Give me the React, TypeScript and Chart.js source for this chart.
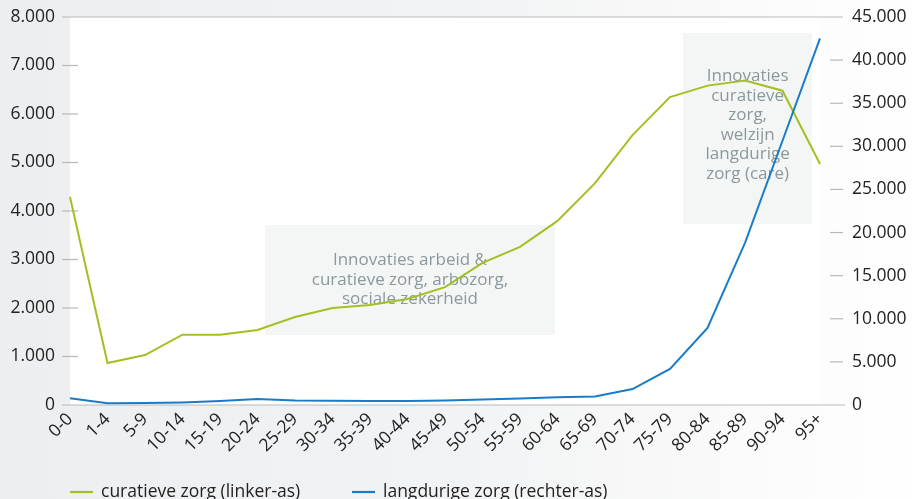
import React, { useEffect, useRef } from "react";
import { Chart, registerables } from "chart.js";

Chart.register(...registerables);

const categories = ["0-0", "1-4", "5-9", "10-14", "15-19", "20-24", "25-29", "30-34", "35-39", "40-44", "45-49", "50-54", "55-59", "60-64", "65-69", "70-74", "75-79", "80-84", "85-89", "90-94", "95+"];
const curatieveZorg = [4290, 866, 1030, 1450, 1450, 1545, 1815, 2000, 2060, 2185, 2430, 2930, 3260, 3795, 4575, 5565, 6350, 6585, 6690, 6480, 4970];
const langdurigeZorg = [780, 200, 230, 300, 460, 700, 520, 490, 460, 460, 520, 650, 750, 890, 1000, 1850, 4175, 8930, 18800, 30650, 42530];
const leftMax = 8000;
const leftStep = 1000;
const rightMax = 45000;
const rightStep = 5000;
const legendLabels = ["curatieve zorg (linker-as)", "langdurige zorg (rechter-as)"];
const annotation1 = ["Innovaties arbeid &", "curatieve zorg, arbozorg,", "sociale zekerheid"];
const annotation2 = ["Innovaties", "curatieve", "zorg,", "welzijn", "langdurige", "zorg (care)"];

const GREEN = "#a3c023";
const BLUE = "#1a7cc6";
const FONT = "'Open Sans', sans-serif";
const TEXT = "#222222";
const TICKC = "#b9b9b9";

const fmt = (v: number) => String(v).replace(/\B(?=(\d{3})+(?!\d))/g, ".");

const decor = {
  id: "decor",
  beforeDraw(chart: any) {
    const { ctx, chartArea: a } = chart;
    ctx.save();
    ctx.fillStyle = "#ffffff";
    ctx.fillRect(a.left, a.top, a.right - a.left, a.bottom - a.top);
    ctx.restore();
  },
  beforeDatasetsDraw(chart: any) {
    const { ctx, chartArea: a, scales } = chart;
    const x = scales.x;
    const yl = scales.yL;
    const yr = scales.yR;
    ctx.save();
    ctx.strokeStyle = TICKC;
    ctx.lineWidth = 1.2;
    const hline = (y: number, x0: number, x1: number) => {
      ctx.beginPath();
      ctx.moveTo(x0, y);
      ctx.lineTo(x1, y);
      ctx.stroke();
    };
    hline(yl.getPixelForValue(leftMax), a.left - 8, a.right + 23);
    hline(yl.getPixelForValue(0), a.left - 8, a.right + 25);
    for (let v = leftStep; v < leftMax; v += leftStep) {
      hline(yl.getPixelForValue(v), a.left - 8, a.left + 8);
    }
    for (let v = rightStep; v < rightMax; v += rightStep) {
      hline(yr.getPixelForValue(v), a.right + 10, a.right + 23);
    }
    const box = (i0: number, i1: number, v0: number, v1: number, lines: string[], cy: number) => {
      const px0 = x.getPixelForValue(i0);
      const px1 = x.getPixelForValue(i1);
      const py0 = yl.getPixelForValue(v0);
      const py1 = yl.getPixelForValue(v1);
      ctx.fillStyle = "#f4f6f6";
      ctx.fillRect(px0, py0, px1 - px0, py1 - py0);
      ctx.fillStyle = "#8b989c";
      ctx.font = `17px ${FONT}`;
      ctx.textAlign = "center";
      ctx.textBaseline = "middle";
      const lh = 19.5;
      const midY = yl.getPixelForValue(cy);
      const cx = (px0 + px1) / 2;
      lines.forEach((t, k) => {
        ctx.fillText(t, cx, midY + (k - (lines.length - 1) / 2) * lh);
      });
    };
    box(5.2, 12.93, 3711, 1443, annotation1, 2577);
    box(16.35, 19.79, 7670, 3732, annotation2, 5770);
    ctx.restore();
  },
  afterDraw(chart: any) {
    const { ctx, chartArea: a } = chart;
    ctx.save();
    const y = 492;
    const items = [
      { color: GREEN, x: a.left, label: legendLabels[0] },
      { color: BLUE, x: a.left + 282, label: legendLabels[1] },
    ];
    ctx.font = `17.5px ${FONT}`;
    ctx.textBaseline = "middle";
    ctx.textAlign = "left";
    items.forEach((it) => {
      ctx.strokeStyle = it.color;
      ctx.lineWidth = 2.2;
      ctx.beginPath();
      ctx.moveTo(it.x, y);
      ctx.lineTo(it.x + 23, y);
      ctx.stroke();
      ctx.fillStyle = TEXT;
      ctx.fillText(it.label, it.x + 31, y);
    });
    ctx.restore();
  },
};

export default function App() {
  const ref = useRef<HTMLCanvasElement | null>(null);
  useEffect(() => {
    document.body.style.margin = "0";
    const canvas = ref.current;
    if (!canvas) return;
    const tickFont = { family: FONT, size: 17.5 };
    const vFit = (w: number) => (s: any) => {
      s.width = w;
      s.paddingTop = 0;
      s.paddingBottom = 0;
    };
    const chart = new Chart(canvas, {
      type: "line",
      data: {
        labels: categories,
        datasets: [
          {
            label: legendLabels[0],
            data: curatieveZorg,
            yAxisID: "yL",
            borderColor: GREEN,
            backgroundColor: GREEN,
            borderWidth: 2,
            pointRadius: 0,
            tension: 0,
            order: 1,
          },
          {
            label: legendLabels[1],
            data: langdurigeZorg,
            yAxisID: "yR",
            borderColor: BLUE,
            backgroundColor: BLUE,
            borderWidth: 2,
            pointRadius: 0,
            tension: 0,
            order: 0,
          },
        ],
      },
      options: {
        responsive: false,
        animation: false,
        layout: { padding: { top: 17, left: 0, right: 0, bottom: 0 } },
        plugins: { legend: { display: false }, tooltip: { enabled: false } },
        scales: {
          x: {
            type: "category",
            grid: { display: false, drawTicks: false },
            border: { display: false },
            ticks: { minRotation: 45, maxRotation: 45, autoSkip: false, padding: 4, color: TEXT, font: tickFont },
            afterFit: (s: any) => {
              s.height = 94;
              s.paddingLeft = 0;
              s.paddingRight = 0;
            },
          },
          yL: {
            type: "linear",
            position: "left",
            min: 0,
            max: leftMax,
            grid: { display: false, drawTicks: false },
            border: { display: false },
            ticks: { stepSize: leftStep, padding: 15, color: TEXT, font: tickFont, callback: (v: any) => fmt(v) },
            afterFit: vFit(70),
          },
          yR: {
            type: "linear",
            position: "right",
            min: 0,
            max: rightMax,
            grid: { display: false, drawTicks: false },
            border: { display: false },
            ticks: { stepSize: rightStep, padding: 32, color: TEXT, font: tickFont, callback: (v: any) => fmt(v) },
            afterFit: vFit(98),
          },
        },
      },
      plugins: [decor],
    } as any);
    return () => chart.destroy();
  }, []);
  return (
    <div style={{ width: 918, height: 499, position: "relative", background: "linear-gradient(90deg, #eceef0 0%, #f2f3f4 50%, #ffffff 100%)", overflow: "hidden" }}>
      <canvas ref={ref} width={918} height={499} style={{ display: "block" }} />
    </div>
  );
}
